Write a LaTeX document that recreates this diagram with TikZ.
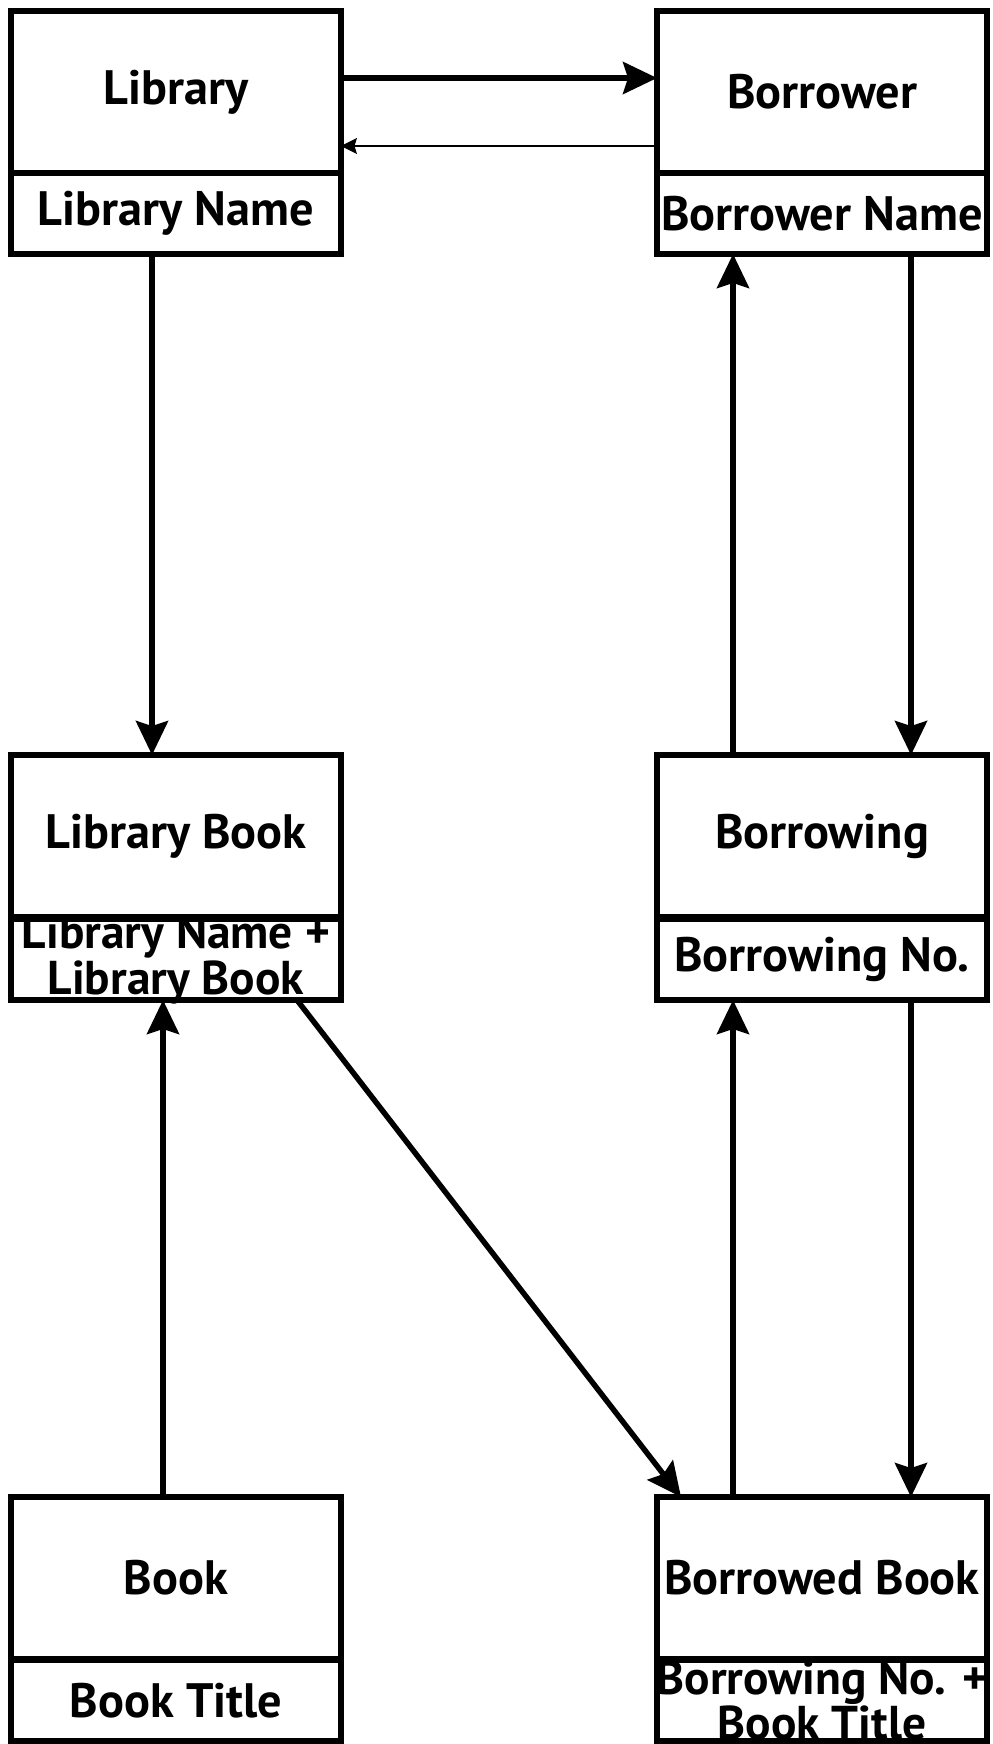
\documentclass[tikz,border=0pt]{standalone}
\usepackage{fontspec}
\setmainfont{PT Sans}
\usetikzlibrary{arrows.meta}

\tikzset{
  entity/.style={draw, line width=0.11cm, outer sep=0pt, inner sep=0pt,
    minimum width=6.6cm, minimum height=3.24cm, align=center,
    font=\bfseries\fontsize{27.5}{24.5}\selectfont},
  entkey/.style={entity, minimum height=1.62cm},
  keytext/.style={inner sep=0pt, align=center,
    font=\bfseries\fontsize{27}{24}\selectfont},
  link/.style={line width=0.11cm, -{Stealth[length=0.68cm, width=0.64cm, inset=0.1cm]}},
  thinlink/.style={line width=0.03cm, -{Stealth[length=0.32cm, width=0.32cm, inset=0.05cm]}}
}

\begin{document}
\begin{tikzpicture}[x=0.02cm, y=-0.02cm]
        \path[use as bounding box] (0,0) rectangle (992,1744);

        % entities, top part and key part
        \node [entity] (lib) at (176, 92) {Library};
        \node [entkey] (libkey) at (176, 213.5) {Library Name};
        \node [entity] (bor) at (822, 92) {Borrower};
        \node [entkey] (borkey) at (822, 213.5) {Borrower Name};

        \node [entity] (lbook) at (176, 836) {Library Book};
        \node [entkey] (lbookkey) at (176, 959.5) {};
        \node [keytext] (lbooktext) at (lbookkey.center) {Library Name +\\Library Book};
        \node [entity] (bwg) at (822, 836) {Borrowing};
        \node [entkey] (bwgkey) at (822, 959.5) {Borrowing No.};

        \node [entity] (book) at (176, 1578) {Book};
        \node [entkey] (bookkey) at (176, 1700.5) {Book Title};
        \node [entity] (bbook) at (822, 1578) {Borrowed Book};
        \node [entkey] (bbookkey) at (822, 1700.5) {};
        \node [keytext] (bbooktext) at (bbookkey.center) {Borrowing No. +\\Book Title};

        % links
        \draw[link] ([yshift=0.28cm]lib.east) -- ([yshift=0.28cm]bor.west);
        \draw[thinlink] ([yshift=-1.08cm]bor.west) -- ([yshift=-1.08cm]lib.east);
        \draw[link] ([xshift=-0.48cm]libkey.south) -- ([xshift=-0.48cm]lbook.north);
        \draw[link] ([xshift=-1.78cm]bwg.north) -- ([xshift=-1.78cm]borkey.south);
        \draw[link] ([xshift=1.78cm]borkey.south) -- ([xshift=1.78cm]bwg.north);
        \draw[link] ([xshift=-0.26cm]book.north) -- ([xshift=-0.26cm]lbookkey.south);
        \draw[link] ([xshift=2.42cm]lbookkey.south) -- ([xshift=-2.82cm]bbook.north);
        \draw[link] ([xshift=-1.78cm]bbook.north) -- ([xshift=-1.78cm]bwgkey.south);
        \draw[link] ([xshift=1.78cm]bwgkey.south) -- ([xshift=1.78cm]bbook.north);
      \end{tikzpicture}
\end{document}
